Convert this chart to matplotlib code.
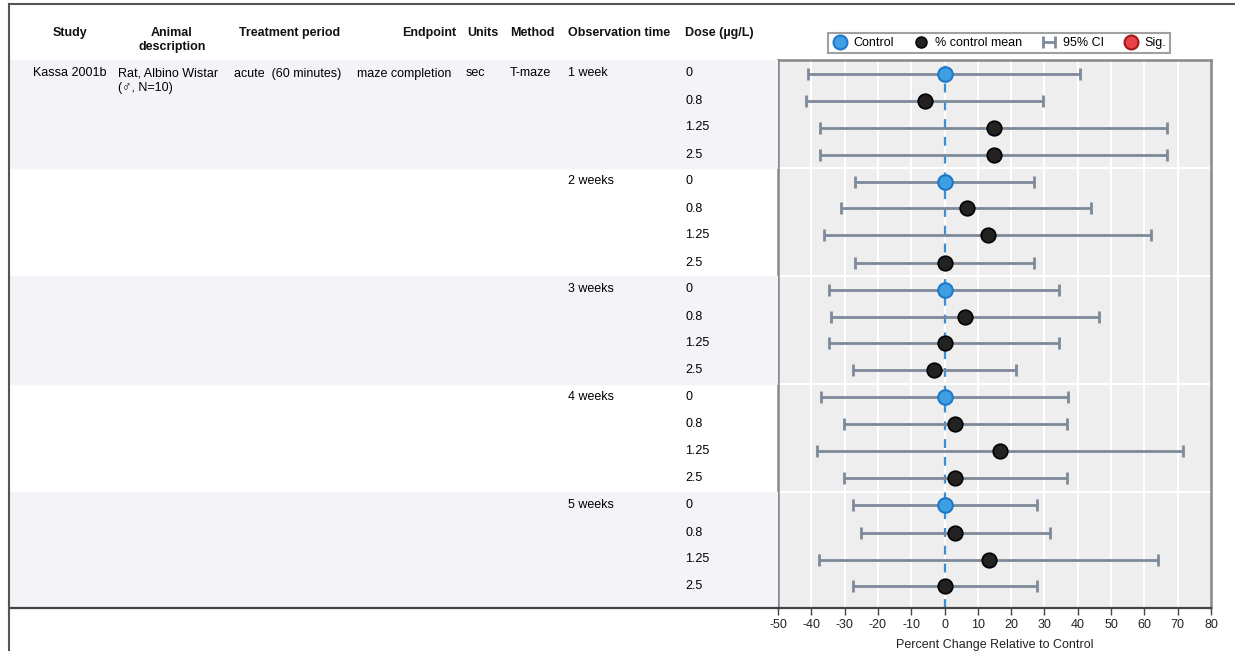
import numpy as np
import matplotlib
matplotlib.use('Agg')
import matplotlib.pyplot as plt
from matplotlib.lines import Line2D

plt.rcParams['font.family'] = ['Liberation Sans', 'DejaVu Sans']
plt.rcParams['axes.unicode_minus'] = False

# data
obs_times = ['1 week', '2 weeks', '3 weeks', '4 weeks', '5 weeks']
doses = ['0', '0.8', '1.25', '2.5']

means = [
    [0, -5.8, 14.7, 14.7],
    [0, 6.6, 12.9, 0],
    [0, 6.2, 0, -3.2],
    [0, 3.2, 16.6, 3.2],
    [0, 3.2, 13.2, 0],
]
ci_low = [
    [-41.0, -41.5, -37.3, -37.3],
    [-26.9, -31.1, -36.3, -26.9],
    [-34.7, -34.1, -34.7, -27.6],
    [-37.0, -30.2, -38.3, -30.2],
    [-27.6, -25.0, -37.8, -27.6],
]
ci_high = [
    [40.8, 29.7, 66.8, 66.8],
    [26.8, 43.9, 62.1, 26.8],
    [34.5, 46.5, 34.5, 21.6],
    [37.0, 36.8, 71.5, 36.8],
    [27.7, 31.6, 64.0, 27.7],
]

study = 'Kassa 2001b'
animal = ['Rat, Albino Wistar', '(\u2642, N=10)']
treatment = 'acute  (60 minutes)'
endpoint = 'maze completion'
units = 'sec'
method = 'T-maze'

W, H = 1235, 651
fig = plt.figure(figsize=(W / 100, H / 100), dpi=100)


def fx(x):
    return x / W


def fy(y):
    return 1 - y / H


plot_top, plot_bot = 60, 608
plot_l, plot_r = 778, 1211
row_h = 27.0
y_top = -0.5
y_bot = y_top + (plot_bot - plot_top) / row_h

ax = fig.add_axes([fx(plot_l), fy(plot_bot), fx(plot_r - plot_l), (plot_bot - plot_top) / H])
axt = fig.add_axes([fx(9), fy(plot_bot), fx(plot_l - 9), (plot_bot - plot_top) / H])

n_rows = len(obs_times) * len(doses)
ypos = np.arange(n_rows)

m = np.array(means).ravel()
lo = np.array(ci_low).ravel()
hi = np.array(ci_high).ravel()
is_ctrl = np.array([d == '0' for t in obs_times for d in doses])

# plot panel
ax.set_facecolor('#eeeeee')
ax.set_xlim(-50, 80)
ax.set_ylim(y_bot, y_top)
ax.set_xticks(np.arange(-50, 81, 10))
for v in np.arange(-40, 80, 10):
    ax.axvline(v, color='white', lw=1.5, zorder=1)
for g in range(1, len(obs_times)):
    ax.axhline(g * len(doses) - 0.5, color='white', lw=1.5, zorder=1)
ax.axvline(0, color='#3a8fd6', lw=1.6, ls=(0, (4, 4)), zorder=2)

ax.errorbar(m, ypos, xerr=[m - lo, hi - m], fmt='none', ecolor='#7d8a99',
            elinewidth=2, capsize=4, capthick=2, zorder=3, label='95% CI')
ax.plot(m[is_ctrl], ypos[is_ctrl], 'o', ms=10.5, mfc='#3e9fe3', mec='#1f78c8',
        mew=1.5, zorder=4)
ax.plot(m[~is_ctrl], ypos[~is_ctrl], 'o', ms=10.5, mfc='#222222', mec='#000000',
        mew=1.2, zorder=4)

ax.set_yticks([])
for s in ['left', 'right', 'top']:
    ax.spines[s].set_color('#888888')
    ax.spines[s].set_linewidth(1.8)
ax.spines['bottom'].set_color('#444444')
ax.spines['bottom'].set_linewidth(1.6)
ax.tick_params(axis='x', length=5, width=1, color='#444444', labelsize=9,
               labelcolor='#222222', pad=3)
ax.set_xlabel('Percent Change Relative to Control', fontsize=9, color='#222222',
              labelpad=6)

# table panel
axt.set_xlim(9, plot_l)
axt.set_ylim(y_bot, y_top)
axt.axis('off')
for g in range(0, len(obs_times), 2):
    top = g * len(doses) - 0.5
    bot = top + len(doses) if g < len(obs_times) - 1 else y_bot
    axt.axhspan(top, bot, color='#f4f4f8', zorder=0)

fs = 9
axt.text(70, 0, study, ha='center', va='center', fontsize=fs)
axt.text(118, 0, animal[0], ha='left', va='center', fontsize=fs)
axt.text(118, 14 / row_h, animal[1], ha='left', va='center', fontsize=fs)
axt.text(234, 0, treatment, ha='left', va='center', fontsize=fs)
axt.text(357, 0, endpoint, ha='left', va='center', fontsize=fs)
axt.text(466, 0, units, ha='left', va='center', fontsize=fs)
axt.text(510, 0, method, ha='left', va='center', fontsize=fs)
for i, t in enumerate(obs_times):
    axt.text(568, i * len(doses), t, ha='left', va='center', fontsize=fs)
    for j, d in enumerate(doses):
        axt.text(685, i * len(doses) + j, d, ha='left', va='center', fontsize=fs)

# bottom rule of table
axt.plot([9, plot_l], [y_bot, y_bot], color='#444444', lw=1.6, clip_on=False)

# header
hdr = dict(fontsize=9, fontweight='bold', va='center', color='#111111')
fig.text(fx(70), fy(33), 'Study', ha='center', **hdr)
fig.text(fx(172), fy(33), 'Animal', ha='center', **hdr)
fig.text(fx(172), fy(47), 'description', ha='center', **hdr)
fig.text(fx(290), fy(33), 'Treatment period', ha='center', **hdr)
fig.text(fx(456), fy(33), 'Endpoint', ha='right', **hdr)
fig.text(fx(467), fy(33), 'Units', ha='left', **hdr)
fig.text(fx(510), fy(33), 'Method', ha='left', **hdr)
fig.text(fx(568), fy(33), 'Observation time', ha='left', **hdr)
fig.text(fx(685), fy(33), 'Dose (\u00b5g/L)', ha='left', **hdr)

# outer frame lines
fig.add_artist(Line2D([fx(9), fx(9)], [fy(4), 0], color='#555555', lw=1.5))
fig.add_artist(Line2D([fx(9), 1], [fy(4), fy(4)], color='#555555', lw=1.5))

# legend
handles = [
    Line2D([], [], ls='none', marker='o', ms=10, mfc='#3e9fe3', mec='#1f78c8', mew=1.5),
    Line2D([], [], ls='none', marker='o', ms=8, mfc='#222222', mec='#000000'),
    ax.containers[0],
    Line2D([], [], ls='none', marker='o', ms=10, mfc='#e8434a', mec='#a01818', mew=1.5),
]
labels = ['Control', '% control mean', '95% CI', 'Sig.']
leg = fig.legend(handles, labels, loc='center', bbox_to_anchor=(fx(999), fy(43)),
                 ncol=4, fontsize=9, frameon=True, fancybox=False,
                 handlelength=1.3, handletextpad=0.45, columnspacing=1.5,
                 borderpad=0.35)
leg.get_frame().set_edgecolor('#888888')
leg.get_frame().set_linewidth(1.5)

fig.savefig('out.png', dpi=100)
